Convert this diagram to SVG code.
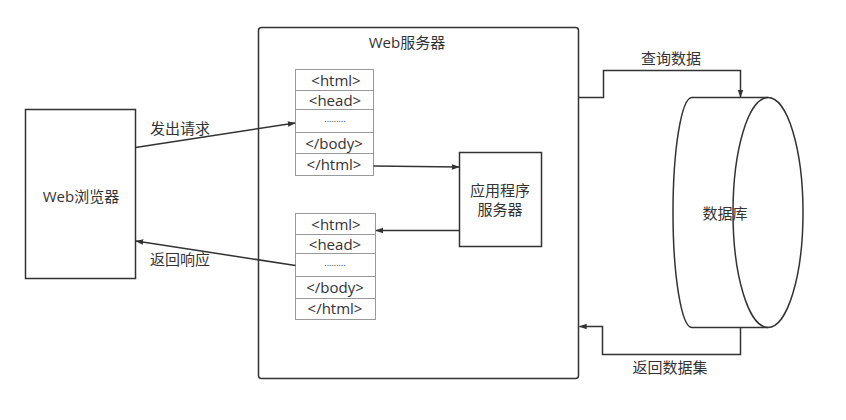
<svg xmlns="http://www.w3.org/2000/svg" width="846" height="420" viewBox="0 0 846 420">
<defs>
<style>
text{font-family:"Open Sans","Noto Sans CJK SC",sans-serif;font-size:15px;fill:#333;text-anchor:middle;dominant-baseline:central}
.dots{font-size:9px}
.box{fill:#fff;stroke:#333;stroke-width:1.5}
.cell{fill:#fff;stroke:#999;stroke-width:1}
.edge{fill:none;stroke:#333;stroke-width:1.5}
</style>
<marker id="ah" viewBox="0 0 10 10" refX="9" refY="5" markerWidth="8" markerHeight="8" markerUnits="userSpaceOnUse" orient="auto">
<path d="M0 1.5 L10 5 L0 8.5 Z" fill="#333"/>
</marker>
</defs>
<rect width="846" height="420" fill="#fff"/>
<g id="web-server">
<rect class="box" x="258.5" y="27.5" width="320" height="351" rx="3"/>
<text x="407" y="42">Web服务器</text>
</g>
<g id="browser">
<rect class="box" x="25.5" y="109.5" width="110" height="169"/>
<text x="81" y="196">Web浏览器</text>
</g>
<g id="request-doc">
<rect class="cell" x="295.5" y="69.5" width="78" height="21"/>
<rect class="cell" x="295.5" y="90.5" width="78" height="19"/>
<rect class="cell" x="295.5" y="109.5" width="78" height="23"/>
<rect class="cell" x="295.5" y="132.5" width="78" height="21"/>
<rect class="cell" x="295.5" y="153.5" width="78" height="22"/>
<text x="336" y="80">&lt;html&gt;</text>
<text x="335" y="100">&lt;head&gt;</text>
<text class="dots" x="335" y="118">.........</text>
<text x="334" y="143">&lt;/body&gt;</text>
<text x="334" y="164">&lt;/html&gt;</text>
</g>
<g id="response-doc">
<rect class="cell" x="295.5" y="213.5" width="80" height="21"/>
<rect class="cell" x="295.5" y="234.5" width="80" height="19"/>
<rect class="cell" x="295.5" y="253.5" width="80" height="23"/>
<rect class="cell" x="295.5" y="276.5" width="80" height="22"/>
<rect class="cell" x="295.5" y="298.5" width="80" height="21"/>
<text x="336" y="224">&lt;html&gt;</text>
<text x="335" y="244">&lt;head&gt;</text>
<text class="dots" x="335" y="262">.........</text>
<text x="335" y="287">&lt;/body&gt;</text>
<text x="335" y="308">&lt;/html&gt;</text>
</g>
<g id="app-server">
<rect class="box" x="459.5" y="152.5" width="82" height="94"/>
<text x="500" y="190">应用程序</text>
<text x="500" y="209">服务器</text>
</g>
<g id="database">
<path d="M692 97.5 L768 97.5 A35 115 0 0 1 768 327.5 L692 327.5 A19 115 0 0 1 692 97.5 Z" fill="#fff" stroke="#333" stroke-width="1.5"/>
<path d="M768 97.5 A35 115 0 0 0 768 327.5" fill="none" stroke="#333" stroke-width="1.5"/>
<text x="725" y="213">数据库</text>
</g>
<g id="connectors">
<line class="edge" x1="135.5" y1="147.5" x2="295" y2="123" marker-end="url(#ah)"/>
<text x="180" y="128">发出请求</text>
<line class="edge" x1="295.5" y1="265.5" x2="136" y2="241" marker-end="url(#ah)"/>
<text x="180" y="259">返回响应</text>
<line class="edge" x1="373.5" y1="166" x2="459" y2="167" marker-end="url(#ah)"/>
<line class="edge" x1="459.5" y1="230.5" x2="376" y2="230.5" marker-end="url(#ah)"/>
<path class="edge" d="M579 97.5 H603.5 V70.5 H740.5 V97" marker-end="url(#ah)"/>
<text x="671" y="58">查询数据</text>
<path class="edge" d="M740.5 327.5 V354.5 H602.5 V326.5 H579.5" marker-end="url(#ah)"/>
<text x="670" y="367">返回数据集</text>
</g>
</svg>
